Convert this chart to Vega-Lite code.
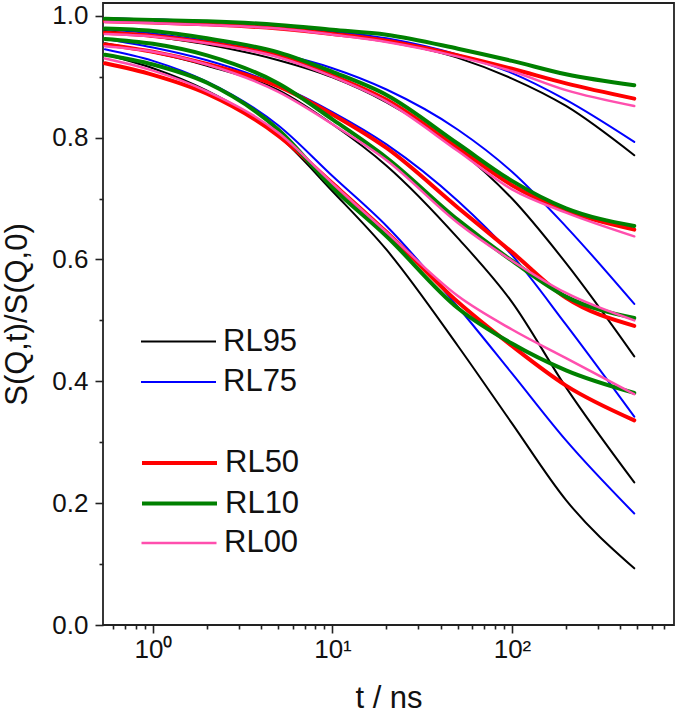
{
  "$schema": "https://vega.github.io/schema/vega-lite/v6.json",
  "width": 571,
  "height": 622,
  "autosize": {"type": "none"},
  "padding": {"left": 103, "top": 3, "right": 5, "bottom": 88},
  "background": "white",
  "config": {
    "view": {"stroke": "#222222", "strokeWidth": 1.8},
    "font": "Liberation Sans",
    "axis": {"domain": false, "grid": false, "ticks": true, "tickColor": "#222222", "tickWidth": 1.6, "labelFont": "Liberation Sans", "labelColor": "#111111", "titleFont": "Liberation Sans", "titleFontWeight": "normal", "titleColor": "#111111", "labelFlush": false, "labelOverlap": false, "labelBound": false},
    "legend": {"orient": "none", "legendX": 37, "direction": "vertical", "title": null, "padding": 0, "symbolType": "stroke", "symbolSize": 5625, "labelFontSize": 31, "labelFont": "Liberation Sans", "labelColor": "#111111", "labelOffset": 6, "labelLimit": 300}
  },
  "datasets": {
    "curves": [
      {"s":"RL95","q":1,"t":0.54,"v":0.996},{"s":"RL95","q":1,"t":1,"v":0.994},{"s":"RL95","q":1,"t":2,"v":0.991},{"s":"RL95","q":1,"t":5,"v":0.983},{"s":"RL95","q":1,"t":10,"v":0.973},{"s":"RL95","q":1,"t":20,"v":0.959},{"s":"RL95","q":1,"t":50,"v":0.931},{"s":"RL95","q":1,"t":100,"v":0.897},{"s":"RL95","q":1,"t":200,"v":0.852},{"s":"RL95","q":1,"t":480,"v":0.771},
      {"s":"RL95","q":2,"t":0.54,"v":0.975},{"s":"RL95","q":2,"t":1,"v":0.966},{"s":"RL95","q":2,"t":2,"v":0.953},{"s":"RL95","q":2,"t":5,"v":0.927},{"s":"RL95","q":2,"t":10,"v":0.899},{"s":"RL95","q":2,"t":20,"v":0.858},{"s":"RL95","q":2,"t":50,"v":0.781},{"s":"RL95","q":2,"t":100,"v":0.700},{"s":"RL95","q":2,"t":200,"v":0.594},{"s":"RL95","q":2,"t":480,"v":0.441},
      {"s":"RL95","q":3,"t":0.54,"v":0.955},{"s":"RL95","q":3,"t":1,"v":0.940},{"s":"RL95","q":3,"t":2,"v":0.918},{"s":"RL95","q":3,"t":5,"v":0.878},{"s":"RL95","q":3,"t":10,"v":0.822},{"s":"RL95","q":3,"t":20,"v":0.754},{"s":"RL95","q":3,"t":50,"v":0.635},{"s":"RL95","q":3,"t":100,"v":0.530},{"s":"RL95","q":3,"t":200,"v":0.390},{"s":"RL95","q":3,"t":480,"v":0.234},
      {"s":"RL95","q":4,"t":0.54,"v":0.937},{"s":"RL95","q":4,"t":1,"v":0.914},{"s":"RL95","q":4,"t":2,"v":0.877},{"s":"RL95","q":4,"t":5,"v":0.803},{"s":"RL95","q":4,"t":10,"v":0.712},{"s":"RL95","q":4,"t":20,"v":0.616},{"s":"RL95","q":4,"t":50,"v":0.458},{"s":"RL95","q":4,"t":100,"v":0.331},{"s":"RL95","q":4,"t":200,"v":0.205},{"s":"RL95","q":4,"t":480,"v":0.093},
      {"s":"RL75","q":1,"t":0.54,"v":0.996},{"s":"RL75","q":1,"t":1,"v":0.994},{"s":"RL75","q":1,"t":2,"v":0.991},{"s":"RL75","q":1,"t":5,"v":0.984},{"s":"RL75","q":1,"t":10,"v":0.975},{"s":"RL75","q":1,"t":20,"v":0.963},{"s":"RL75","q":1,"t":50,"v":0.936},{"s":"RL75","q":1,"t":100,"v":0.906},{"s":"RL75","q":1,"t":200,"v":0.862},{"s":"RL75","q":1,"t":480,"v":0.793},
      {"s":"RL75","q":2,"t":0.54,"v":0.978},{"s":"RL75","q":2,"t":1,"v":0.971},{"s":"RL75","q":2,"t":2,"v":0.959},{"s":"RL75","q":2,"t":5,"v":0.938},{"s":"RL75","q":2,"t":10,"v":0.914},{"s":"RL75","q":2,"t":20,"v":0.879},{"s":"RL75","q":2,"t":50,"v":0.813},{"s":"RL75","q":2,"t":100,"v":0.744},{"s":"RL75","q":2,"t":200,"v":0.654},{"s":"RL75","q":2,"t":480,"v":0.527},
      {"s":"RL75","q":3,"t":0.54,"v":0.962},{"s":"RL75","q":3,"t":1,"v":0.948},{"s":"RL75","q":3,"t":2,"v":0.927},{"s":"RL75","q":3,"t":5,"v":0.886},{"s":"RL75","q":3,"t":10,"v":0.842},{"s":"RL75","q":3,"t":20,"v":0.789},{"s":"RL75","q":3,"t":50,"v":0.696},{"s":"RL75","q":3,"t":100,"v":0.607},{"s":"RL75","q":3,"t":200,"v":0.493},{"s":"RL75","q":3,"t":480,"v":0.342},
      {"s":"RL75","q":4,"t":0.54,"v":0.945},{"s":"RL75","q":4,"t":1,"v":0.926},{"s":"RL75","q":4,"t":2,"v":0.892},{"s":"RL75","q":4,"t":5,"v":0.820},{"s":"RL75","q":4,"t":10,"v":0.737},{"s":"RL75","q":4,"t":20,"v":0.655},{"s":"RL75","q":4,"t":50,"v":0.522},{"s":"RL75","q":4,"t":100,"v":0.413},{"s":"RL75","q":4,"t":200,"v":0.303},{"s":"RL75","q":4,"t":480,"v":0.183},
      {"s":"RL50","q":1,"t":0.54,"v":0.991},{"s":"RL50","q":1,"t":1,"v":0.989},{"s":"RL50","q":1,"t":2,"v":0.986},{"s":"RL50","q":1,"t":5,"v":0.979},{"s":"RL50","q":1,"t":10,"v":0.970},{"s":"RL50","q":1,"t":20,"v":0.959},{"s":"RL50","q":1,"t":50,"v":0.935},{"s":"RL50","q":1,"t":100,"v":0.913},{"s":"RL50","q":1,"t":200,"v":0.889},{"s":"RL50","q":1,"t":480,"v":0.864},
      {"s":"RL50","q":2,"t":0.54,"v":0.972},{"s":"RL50","q":2,"t":1,"v":0.967},{"s":"RL50","q":2,"t":2,"v":0.956},{"s":"RL50","q":2,"t":5,"v":0.934},{"s":"RL50","q":2,"t":10,"v":0.902},{"s":"RL50","q":2,"t":20,"v":0.862},{"s":"RL50","q":2,"t":50,"v":0.783},{"s":"RL50","q":2,"t":100,"v":0.722},{"s":"RL50","q":2,"t":200,"v":0.680},{"s":"RL50","q":2,"t":480,"v":0.649},
      {"s":"RL50","q":3,"t":0.54,"v":0.953},{"s":"RL50","q":3,"t":1,"v":0.941},{"s":"RL50","q":3,"t":2,"v":0.921},{"s":"RL50","q":3,"t":5,"v":0.884},{"s":"RL50","q":3,"t":10,"v":0.838},{"s":"RL50","q":3,"t":20,"v":0.783},{"s":"RL50","q":3,"t":50,"v":0.685},{"s":"RL50","q":3,"t":100,"v":0.612},{"s":"RL50","q":3,"t":200,"v":0.537},{"s":"RL50","q":3,"t":480,"v":0.491},
      {"s":"RL50","q":4,"t":0.54,"v":0.922},{"s":"RL50","q":4,"t":1,"v":0.903},{"s":"RL50","q":4,"t":2,"v":0.872},{"s":"RL50","q":4,"t":5,"v":0.803},{"s":"RL50","q":4,"t":10,"v":0.725},{"s":"RL50","q":4,"t":20,"v":0.645},{"s":"RL50","q":4,"t":50,"v":0.530},{"s":"RL50","q":4,"t":100,"v":0.458},{"s":"RL50","q":4,"t":200,"v":0.393},{"s":"RL50","q":4,"t":480,"v":0.336},
      {"s":"RL10","q":1,"t":0.54,"v":0.995},{"s":"RL10","q":1,"t":1,"v":0.993},{"s":"RL10","q":1,"t":2,"v":0.991},{"s":"RL10","q":1,"t":5,"v":0.985},{"s":"RL10","q":1,"t":10,"v":0.977},{"s":"RL10","q":1,"t":20,"v":0.969},{"s":"RL10","q":1,"t":50,"v":0.946},{"s":"RL10","q":1,"t":100,"v":0.926},{"s":"RL10","q":1,"t":200,"v":0.904},{"s":"RL10","q":1,"t":480,"v":0.886},
      {"s":"RL10","q":2,"t":0.54,"v":0.979},{"s":"RL10","q":2,"t":1,"v":0.975},{"s":"RL10","q":2,"t":2,"v":0.963},{"s":"RL10","q":2,"t":5,"v":0.940},{"s":"RL10","q":2,"t":10,"v":0.908},{"s":"RL10","q":2,"t":20,"v":0.870},{"s":"RL10","q":2,"t":50,"v":0.790},{"s":"RL10","q":2,"t":100,"v":0.729},{"s":"RL10","q":2,"t":200,"v":0.684},{"s":"RL10","q":2,"t":480,"v":0.655},
      {"s":"RL10","q":3,"t":0.54,"v":0.962},{"s":"RL10","q":3,"t":1,"v":0.954},{"s":"RL10","q":3,"t":2,"v":0.935},{"s":"RL10","q":3,"t":5,"v":0.889},{"s":"RL10","q":3,"t":10,"v":0.830},{"s":"RL10","q":3,"t":20,"v":0.767},{"s":"RL10","q":3,"t":50,"v":0.665},{"s":"RL10","q":3,"t":100,"v":0.598},{"s":"RL10","q":3,"t":200,"v":0.539},{"s":"RL10","q":3,"t":480,"v":0.504},
      {"s":"RL10","q":4,"t":0.54,"v":0.936},{"s":"RL10","q":4,"t":1,"v":0.920},{"s":"RL10","q":4,"t":2,"v":0.890},{"s":"RL10","q":4,"t":5,"v":0.813},{"s":"RL10","q":4,"t":10,"v":0.718},{"s":"RL10","q":4,"t":20,"v":0.638},{"s":"RL10","q":4,"t":50,"v":0.520},{"s":"RL10","q":4,"t":100,"v":0.462},{"s":"RL10","q":4,"t":200,"v":0.418},{"s":"RL10","q":4,"t":480,"v":0.381},
      {"s":"RL00","q":1,"t":0.54,"v":0.990},{"s":"RL00","q":1,"t":1,"v":0.988},{"s":"RL00","q":1,"t":2,"v":0.985},{"s":"RL00","q":1,"t":5,"v":0.979},{"s":"RL00","q":1,"t":10,"v":0.969},{"s":"RL00","q":1,"t":20,"v":0.957},{"s":"RL00","q":1,"t":50,"v":0.933},{"s":"RL00","q":1,"t":100,"v":0.909},{"s":"RL00","q":1,"t":200,"v":0.878},{"s":"RL00","q":1,"t":480,"v":0.852},
      {"s":"RL00","q":2,"t":0.54,"v":0.970},{"s":"RL00","q":2,"t":1,"v":0.966},{"s":"RL00","q":2,"t":2,"v":0.955},{"s":"RL00","q":2,"t":5,"v":0.932},{"s":"RL00","q":2,"t":10,"v":0.900},{"s":"RL00","q":2,"t":20,"v":0.859},{"s":"RL00","q":2,"t":50,"v":0.778},{"s":"RL00","q":2,"t":100,"v":0.715},{"s":"RL00","q":2,"t":200,"v":0.677},{"s":"RL00","q":2,"t":480,"v":0.638},
      {"s":"RL00","q":3,"t":0.54,"v":0.950},{"s":"RL00","q":3,"t":1,"v":0.941},{"s":"RL00","q":3,"t":2,"v":0.920},{"s":"RL00","q":3,"t":5,"v":0.875},{"s":"RL00","q":3,"t":10,"v":0.822},{"s":"RL00","q":3,"t":20,"v":0.763},{"s":"RL00","q":3,"t":50,"v":0.660},{"s":"RL00","q":3,"t":100,"v":0.598},{"s":"RL00","q":3,"t":200,"v":0.545},{"s":"RL00","q":3,"t":480,"v":0.500},
      {"s":"RL00","q":4,"t":0.54,"v":0.930},{"s":"RL00","q":4,"t":1,"v":0.910},{"s":"RL00","q":4,"t":2,"v":0.876},{"s":"RL00","q":4,"t":5,"v":0.808},{"s":"RL00","q":4,"t":10,"v":0.725},{"s":"RL00","q":4,"t":20,"v":0.645},{"s":"RL00","q":4,"t":50,"v":0.540},{"s":"RL00","q":4,"t":100,"v":0.485},{"s":"RL00","q":4,"t":200,"v":0.438},{"s":"RL00","q":4,"t":480,"v":0.379}
    ]
  },
  "resolve": {
    "scale": {"color": "independent"},
    "axis": {"x": "independent", "y": "independent"},
    "legend": {"color": "independent"}
  },
  "layer": [
    {
      "data": {"name": "curves"},
      "transform": [{"filter": "datum.s == 'RL95'"}],
      "mark": {"type": "line", "interpolate": "monotone", "strokeWidth": 2, "strokeCap": "round"},
      "encoding": {
        "x": {
          "field": "t", "type": "quantitative",
          "scale": {"type": "log", "domain": [0.527, 799], "nice": false},
          "axis": {
            "orient": "bottom", "values": [1, 10, 100], "tickSize": 8,
            "labelExpr": "datum.value == 1 ? '10⁰' : datum.value == 10 ? '10¹' : '10²'",
            "labelFontSize": 26, "labelPadding": 3, "labelBaseline": "top",
            "title": "t / ns", "titleFontSize": 31, "titlePadding": 21
          }
        },
        "y": {
          "field": "v", "type": "quantitative",
          "scale": {"domain": [0, 1.021], "nice": false, "zero": false},
          "axis": {
            "orient": "left", "values": [0, 0.2, 0.4, 0.6, 0.8, 1.0], "tickSize": 8,
            "format": ".1f", "labelFontSize": 26, "labelPadding": 7,
            "title": "S(Q,t)/S(Q,0)", "titleFontSize": 31, "titlePadding": 18
          }
        },
        "color": {
          "field": "s", "type": "nominal",
          "scale": {"domain": ["RL95"], "range": ["#000000"]},
          "legend": {"legendY": 300, "symbolStrokeWidth": 2}
        },
        "detail": {"field": "q", "type": "nominal"}
      }
    },
    {
      "data": {"name": "curves"},
      "transform": [{"filter": "datum.s == 'RL75'"}],
      "mark": {"type": "line", "interpolate": "monotone", "strokeWidth": 2, "strokeCap": "round"},
      "encoding": {
        "x": {
          "field": "t", "type": "quantitative",
          "scale": {"type": "log", "domain": [0.527, 799], "nice": false},
          "axis": {
            "orient": "bottom", "tickSize": 4,
            "values": [0.6, 0.7, 0.8, 0.9, 2, 3, 4, 5, 6, 7, 8, 9, 20, 30, 40, 50, 60, 70, 80, 90, 200, 300, 400, 500, 600, 700],
            "labels": false, "title": null
          }
        },
        "y": {
          "field": "v", "type": "quantitative",
          "scale": {"domain": [0, 1.021], "nice": false, "zero": false},
          "axis": {
            "orient": "left", "values": [0.1, 0.3, 0.5, 0.7, 0.9], "tickSize": 4,
            "labels": false, "title": null
          }
        },
        "color": {
          "field": "s", "type": "nominal",
          "scale": {"domain": ["RL75"], "range": ["#0000ff"]},
          "legend": {"legendY": 340.5, "symbolStrokeWidth": 2}
        },
        "detail": {"field": "q", "type": "nominal"}
      }
    },
    {
      "data": {"name": "curves"},
      "transform": [{"filter": "datum.s == 'RL50'"}],
      "mark": {"type": "line", "interpolate": "monotone", "strokeWidth": 4, "strokeCap": "round"},
      "encoding": {
        "x": {"field": "t", "type": "quantitative", "scale": {"type": "log", "domain": [0.527, 799], "nice": false}, "axis": null},
        "y": {"field": "v", "type": "quantitative", "scale": {"domain": [0, 1.021], "nice": false, "zero": false}, "axis": null},
        "color": {
          "field": "s", "type": "nominal",
          "scale": {"domain": ["RL50"], "range": ["#ff0000"]},
          "legend": {"legendY": 420.5, "symbolStrokeWidth": 4}
        },
        "detail": {"field": "q", "type": "nominal"}
      }
    },
    {
      "data": {"name": "curves"},
      "transform": [{"filter": "datum.s == 'RL10'"}],
      "mark": {"type": "line", "interpolate": "monotone", "strokeWidth": 4, "strokeCap": "round"},
      "encoding": {
        "x": {"field": "t", "type": "quantitative", "scale": {"type": "log", "domain": [0.527, 799], "nice": false}, "axis": null},
        "y": {"field": "v", "type": "quantitative", "scale": {"domain": [0, 1.021], "nice": false, "zero": false}, "axis": null},
        "color": {
          "field": "s", "type": "nominal",
          "scale": {"domain": ["RL10"], "range": ["#008000"]},
          "legend": {"legendY": 461, "symbolStrokeWidth": 4}
        },
        "detail": {"field": "q", "type": "nominal"}
      }
    },
    {
      "data": {"name": "curves"},
      "transform": [{"filter": "datum.s == 'RL00'"}],
      "mark": {"type": "line", "interpolate": "monotone", "strokeWidth": 2.5, "strokeCap": "round"},
      "encoding": {
        "x": {"field": "t", "type": "quantitative", "scale": {"type": "log", "domain": [0.527, 799], "nice": false}, "axis": null},
        "y": {"field": "v", "type": "quantitative", "scale": {"domain": [0, 1.021], "nice": false, "zero": false}, "axis": null},
        "color": {
          "field": "s", "type": "nominal",
          "scale": {"domain": ["RL00"], "range": ["#ff4fae"]},
          "legend": {"legendY": 501, "symbolStrokeWidth": 2.5}
        },
        "detail": {"field": "q", "type": "nominal"}
      }
    }
  ]
}
